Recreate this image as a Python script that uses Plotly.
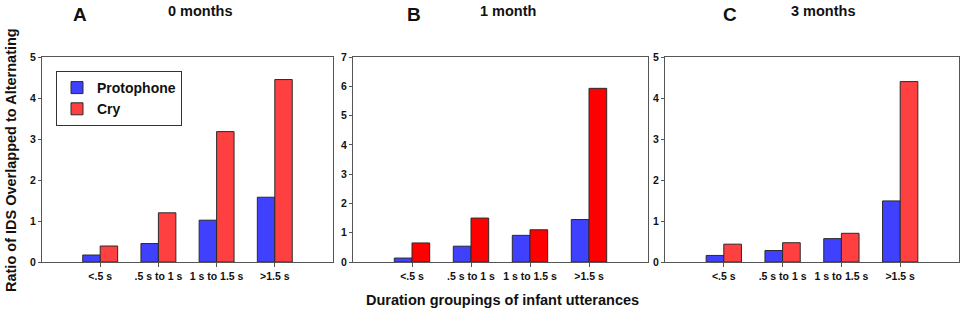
import plotly.graph_objects as go

categories = ["<.5 s", ".5 s to 1 s", "1 s to 1.5 s", ">1.5 s"]
cat_pos = [0, 1, 2, 3]

proto_0m = [0.17, 0.45, 1.02, 1.58]
cry_0m = [0.39, 1.20, 3.18, 4.45]
proto_1m = [0.135, 0.54, 0.91, 1.45]
cry_1m = [0.65, 1.50, 1.10, 5.93]
proto_3m = [0.16, 0.28, 0.57, 1.49]
cry_3m = [0.435, 0.47, 0.70, 4.40]

panel_letters = ["A", "B", "C"]
panel_titles = ["0 months", "1 month", "3 months"]
y_max = [5, 7, 5]

W, H = 963, 313
FONT = "Arial, Liberation Sans, sans-serif"
BLUE = "#4040FF"
RED_LIGHT = "#FF4040"
RED_PURE = "#FF0000"
OUTLINE = "#2a2a2a"
AXIS = "#555555"

fig = go.Figure()

panels = [
    (proto_0m, cry_0m, RED_LIGHT),
    (proto_1m, cry_1m, RED_PURE),
    (proto_3m, cry_3m, RED_LIGHT),
]
x_px = [(42, 333), (353, 648), (665, 959)]
y_px = (57, 262)

for i, (p, c, redc) in enumerate(panels):
    xa = "x" if i == 0 else f"x{i+1}"
    ya = "y" if i == 0 else f"y{i+1}"
    fig.add_trace(go.Bar(x=cat_pos, y=p, name="Protophone", marker=dict(color=BLUE, line=dict(color=OUTLINE, width=1)),
                         xaxis=xa, yaxis=ya, showlegend=(i == 0), offsetgroup="p"))
    fig.add_trace(go.Bar(x=cat_pos, y=c, name="Cry", marker=dict(color=redc, line=dict(color=OUTLINE, width=1)),
                         xaxis=xa, yaxis=ya, showlegend=(i == 0), offsetgroup="c"))
    xd = [x_px[i][0] / W, x_px[i][1] / W]
    yd = [(H - y_px[1]) / H, (H - y_px[0]) / H]
    xkey = "xaxis" if i == 0 else f"xaxis{i+1}"
    ykey = "yaxis" if i == 0 else f"yaxis{i+1}"
    fig.update_layout(**{
        xkey: dict(domain=xd, anchor=ya, range=[-1, 4], tickvals=cat_pos, ticktext=categories,
                   showline=True, mirror=True, linecolor=AXIS, linewidth=1, ticks="outside", ticklen=4,
                   tickcolor=AXIS, showgrid=False, zeroline=False, automargin=False,
                   tickfont=dict(family=FONT, size=10.5, color="#111", weight="bold")),
        ykey: dict(domain=yd, anchor=xa, range=[0, y_max[i]], dtick=1,
                   showline=True, mirror=True, linecolor=AXIS, linewidth=1, ticks="outside", ticklen=3,
                   tickcolor=AXIS, showgrid=False, zeroline=False, automargin=False,
                   tickfont=dict(family=FONT, size=10.5, color="#111", weight="bold")),
    })

annotations = []
letter_x = [80, 414, 730]
title_x = [200, 508, 823]
for i in range(3):
    annotations.append(dict(text=panel_letters[i], x=letter_x[i] / W, y=1 - 14 / H, xref="paper", yref="paper",
                            showarrow=False, xanchor="center", yanchor="middle",
                            font=dict(family=FONT, size=19, color="#111", weight="bold")))
    annotations.append(dict(text=panel_titles[i], x=title_x[i] / W, y=1 - 11 / H, xref="paper", yref="paper",
                            showarrow=False, xanchor="center", yanchor="middle",
                            font=dict(family=FONT, size=14.5, color="#111", weight="bold")))
annotations.append(dict(text="Ratio of IDS Overlapped to Alternating", x=11 / W, y=1 - 160 / H,
                        xref="paper", yref="paper", showarrow=False, textangle=-90,
                        xanchor="center", yanchor="middle",
                        font=dict(family=FONT, size=14.5, color="#111", weight="bold")))
annotations.append(dict(text="Duration groupings of infant utterances", x=502 / W, y=1 - 300 / H,
                        xref="paper", yref="paper", showarrow=False, xanchor="center", yanchor="middle",
                        font=dict(family=FONT, size=14.5, color="#111", weight="bold")))

fig.update_layout(
    width=W, height=H,
    margin=dict(l=0, r=0, t=0, b=0, autoexpand=False),
    paper_bgcolor="white", plot_bgcolor="white",
    barmode="group", bargap=0.4, bargroupgap=0,
    annotations=annotations,
    legend=dict(x=56 / W, y=1 - 71 / H, xanchor="left", yanchor="top",
                bordercolor="#333", borderwidth=1, bgcolor="white",
                font=dict(family=FONT, size=14, color="#111", weight="bold"),
                tracegroupgap=0, itemwidth=30),
    showlegend=True,
)

fig.write_html("out.html", config={"displayModeBar": False},
               post_script="document.body.style.margin='0px';document.body.style.overflow='hidden';")
